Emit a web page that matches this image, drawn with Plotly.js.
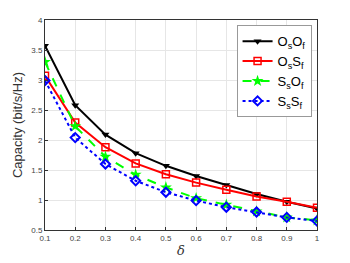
<!DOCTYPE html>
<html><head><meta charset="utf-8">
<script src="https://cdn.plot.ly/plotly-3.0.1.min.js"></script>
<style>html,body{margin:0;padding:0;background:#fff}#c{width:350px;height:263px}</style>
</head><body><div id="c"></div>
<script>
const delta = [0.1,0.2,0.3,0.4,0.5,0.6,0.7,0.8,0.9,1.0];
const OsOf = [3.57,2.58,2.09,1.78,1.57,1.40,1.25,1.10,0.97,0.86];
const OsSf = [3.07,2.29,1.88,1.61,1.43,1.29,1.17,1.06,0.97,0.87];
const SsOf = [3.30,2.23,1.72,1.42,1.21,1.03,0.92,0.81,0.71,0.66];
const SsSf = [2.99,2.04,1.60,1.32,1.13,0.99,0.88,0.80,0.71,0.65];
const names = ['O<sub>s</sub>O<sub>f</sub>','O<sub>s</sub>S<sub>f</sub>','S<sub>s</sub>O<sub>f</sub>','S<sub>s</sub>S<sub>f</sub>'];
const xTicks = [0.1,0.2,0.3,0.4,0.5,0.6,0.7,0.8,0.9,1];
const yTicks = [0.5,1,1.5,2,2.5,3,3.5,4];

const traces = [
 {x:delta,y:OsOf,name:names[0],mode:'lines+markers',line:{color:'#000',width:2,dash:'solid'},marker:{symbol:'triangle-down',size:7,color:'#000'}},
 {x:delta,y:OsSf,name:names[1],mode:'lines+markers',line:{color:'#ff0000',width:2,dash:'solid'},marker:{symbol:'square-open',size:7,color:'#ff0000',line:{width:1.5}}},
 {x:delta,y:SsOf,name:names[2],mode:'lines+markers',line:{color:'#00ff00',width:2,dash:'dash'},marker:{symbol:'star',size:9,color:'#00ff00'}},
 {x:delta,y:SsSf,name:names[3],mode:'lines+markers',line:{color:'#0000ff',width:2,dash:'dot'},marker:{symbol:'diamond-open',size:7,color:'#0000ff',line:{width:2}}}
];
const axisCommon = {showline:true,mirror:true,linecolor:'#333',linewidth:1,ticks:'inside',ticklen:3,tickcolor:'#333',gridcolor:'#e6e6e6',zeroline:false,tickfont:{family:'Liberation Sans, Arial, sans-serif',size:8,color:'#444'}};
const layout = {
 width:350,height:263,margin:{l:45,r:33,t:20,b:33},
 paper_bgcolor:'#fff',plot_bgcolor:'#fff',
 xaxis:Object.assign({},axisCommon,{range:[0.1,1],tickvals:xTicks,ticktext:xTicks.map(String),title:{text:'<i>δ</i>',font:{family:'DejaVu Serif, serif',size:13,color:'#333'},standoff:4}}),
 yaxis:Object.assign({},axisCommon,{range:[0.5,4],tickvals:yTicks,ticktext:yTicks.map(String),title:{text:'Capacity (bit/s/Hz)',font:{family:'Liberation Sans, Arial, sans-serif',size:13,color:'#333'},standoff:5}}),
 legend:{x:0.98,xanchor:'right',y:0.975,yanchor:'top',bgcolor:'#fff',bordercolor:'#999',borderwidth:1,font:{family:'Liberation Sans, Arial, sans-serif',size:13,color:'#000'},itemwidth:30,tracegroupgap:0},
 showlegend:true
};
Plotly.newPlot('c',traces,layout,{displayModeBar:false,staticPlot:true});
</script></body></html>
